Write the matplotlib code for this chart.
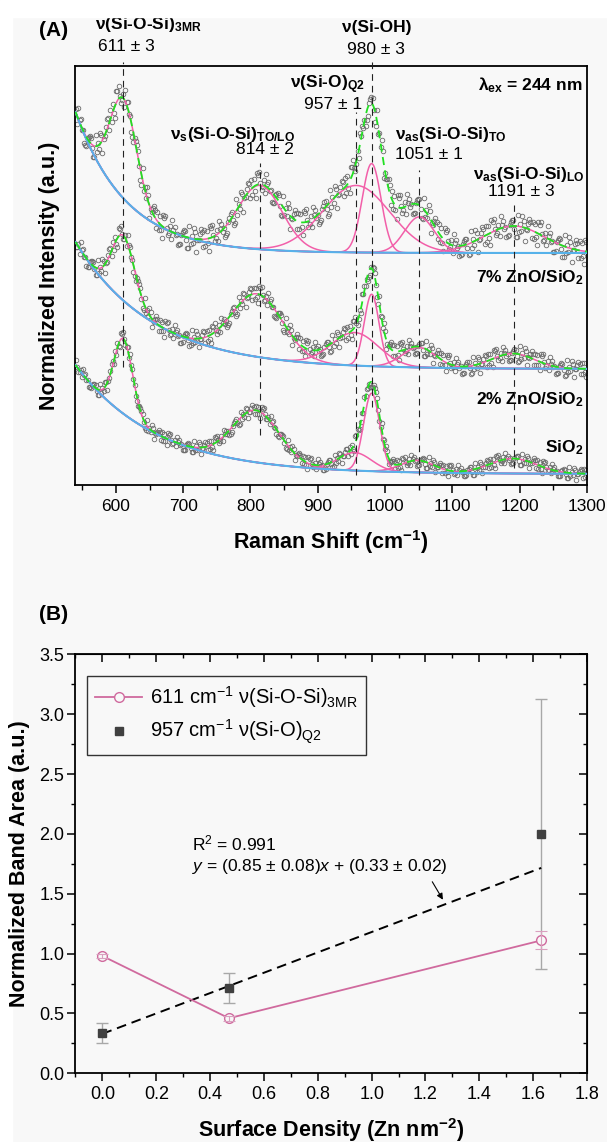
import numpy as np
import matplotlib.pyplot as plt
from matplotlib.patches import Rectangle
from matplotlib.ticker import MultipleLocator, NullFormatter

plt.rcParams['font.family'] = ['Liberation Sans', 'DejaVu Sans']
plt.rcParams['mathtext.fontset'] = 'custom'
plt.rcParams['mathtext.rm'] = 'Liberation Sans'
plt.rcParams['mathtext.it'] = 'Liberation Sans:italic'
plt.rcParams['mathtext.bf'] = 'Liberation Sans:bold'

# ---------------- panel A data: fitted Raman bands (offset intensity units)
band_centers = [611, 814, 957, 980, 1051, 1191]

# 7% ZnO/SiO2 (top trace)
centers_7 = [611, 814, 957, 980, 1051, 1191]
heights_7 = [1.00, 0.64, 0.67, 0.89, 0.36, 0.27]
widths_7 = [20, 33, 50, 14, 22, 45]
baseline_7 = [2.32, 1.41, 75]          # offset, amplitude, decay (cm-1)

# 2% ZnO/SiO2 (middle trace)
centers_2 = [611, 810, 955, 980, 1050, 1190]
heights_2 = [0.65, 0.63, 0.33, 0.72, 0.20, 0.15]
widths_2 = [17, 38, 35, 11, 25, 32]
baseline_2 = [1.16, 1.27, 115]

# SiO2 (bottom trace)
centers_0 = [611, 808, 955, 980, 1048, 1190]
heights_0 = [0.75, 0.52, 0.18, 0.78, 0.12, 0.15]
widths_0 = [14, 35, 25, 12, 25, 35]
baseline_0 = [0.11, 1.09, 120]

# scatter of the measured points about the fit (approximate, per trace)
noise_pattern = [0.35, -0.62, 0.88, -0.15, -0.95, 0.52, 0.08, -0.41, 0.77, -0.86,
                 0.21, 0.63, -0.33, -0.74, 0.97, -0.09, 0.44, -0.58, 0.69, -0.47,
                 0.02, 0.91, -0.99, 0.28, -0.22, 0.57, -0.81, 0.49, -0.37, 0.83,
                 -0.68, 0.13, 0.39, -0.27, 0.93, -0.55, 0.18, -0.79, 0.72, -0.06, 0.46]
noise_amp = [0.13, 0.09, 0.065]

# ---------------- panel B data
density = [0.0, 0.47, 1.63]
area_611 = [0.98, 0.46, 1.11]
err_611 = [0.02, 0.02, 0.075]
area_957 = [0.335, 0.71, 2.0]
err_957 = [0.085, 0.125, 1.125]
fit_slope, fit_intercept = 0.85, 0.33

bg = '#f8f8f8'
pink = '#f25fa9'
blue = '#56b2ea'
green = '#22e022'
pink_b = '#d06a9e'


def baseline(x, p):
    return p[0] + p[1] * np.exp(-(x - 540) / p[2])


def band(x, c, h, s):
    return h * np.exp(-0.5 * ((x - c) / s) ** 2)


fig = plt.figure(figsize=(6.07, 11.42), dpi=100, facecolor=bg)
fig.patches.append(Rectangle((0, 1 - 17 / 1142), 1, 17 / 1142, transform=fig.transFigure,
                             color='white', zorder=0))
fig.patches.append(Rectangle((0, 0), 12 / 607, 1, transform=fig.transFigure,
                             color='white', zorder=0))

# ================= (A)
ax = fig.add_axes([0.12438, 0.57531, 0.84267, 0.36690], facecolor=bg)
x = np.linspace(540, 1300, 800)
xs = np.arange(541, 1300, 1.7)

traces = [(centers_7, heights_7, widths_7, baseline_7),
          (centers_2, heights_2, widths_2, baseline_2),
          (centers_0, heights_0, widths_0, baseline_0)]

n = len(noise_pattern)
for k, (cs, hs, ws, bp) in enumerate(traces):
    base = baseline(x, bp)
    total = base.copy()
    for c, h, s in zip(cs, hs, ws):
        comp = band(x, c, h, s)
        total += comp
        ax.plot(x, base + comp, color=pink, lw=1.1, zorder=3)
    ax.plot(x, base, color=blue, lw=1.5, zorder=4)
    ax.plot(x, total, color=green, lw=1.3, dashes=(4.5, 3), zorder=5)

    pts = baseline(xs, bp)
    for c, h, s in zip(cs, hs, ws):
        pts += band(xs, c, h, s)
    idx = (np.arange(xs.size) * 17 + 7 * k) % n
    jitter = np.array(noise_pattern)[idx]
    ax.plot(xs, pts + noise_amp[k] * jitter, 'o', ms=3.3, mfc='none', mec='#6a6a6a',
            mew=0.6, zorder=2)

line_top = [4.23, 3.22, 3.73, 4.27, 3.15, 2.80]
line_bottom = [1.18, 0.50, 0.10, 0.78, 0.10, 0.17]
for c, y0, y1 in zip(band_centers, line_bottom, line_top):
    ax.plot([c, c], [y0, y1], color='#222222', lw=0.8, dashes=(6, 4.5), clip_on=False, zorder=6)

ax.set_xlim(540, 1300)
ax.set_ylim(0, 4.19)
ax.xaxis.set_major_locator(MultipleLocator(100))
ax.xaxis.set_minor_locator(MultipleLocator(50))
ax.set_yticks([])
ax.tick_params(axis='x', which='major', direction='out', length=5.8, width=1.1,
               labelsize=12.5, pad=4)
ax.tick_params(axis='x', which='minor', direction='out', length=3.6, width=1.0)
for sp in ax.spines.values():
    sp.set_linewidth(1.3)

fs = 12.5
ax.text(569, 4.60, r'ν(Si-O-Si)$_{\mathbf{3MR}}$', fontsize=fs, fontweight='bold', ha='left', va='center')
ax.text(615, 4.38, '611 ± 3', fontsize=fs, ha='center', va='center')
ax.text(987, 4.57, 'ν(Si-OH)', fontsize=fs, fontweight='bold', ha='center', va='center')
ax.text(987, 4.35, '980 ± 3', fontsize=fs, ha='center', va='center')
ax.text(858, 4.00, r'ν(Si-O)$_{\mathbf{Q2}}$', fontsize=fs, fontweight='bold', ha='left', va='center')
ax.text(923, 3.80, '957 ± 1', fontsize=fs, ha='center', va='center')
ax.text(1293, 4.00, r'λ$_{\mathbf{ex}}$ = 244 nm', fontsize=fs, fontweight='bold', ha='right', va='center')
ax.text(680, 3.50, r'ν$_{\mathbf{s}}$(Si-O-Si)$_{\mathbf{TO/LO}}$', fontsize=fs, fontweight='bold',
        ha='left', va='center')
ax.text(822, 3.35, '814 ± 2', fontsize=fs, ha='center', va='center')
ax.text(1014, 3.50, r'ν$_{\mathbf{as}}$(Si-O-Si)$_{\mathbf{TO}}$', fontsize=fs, fontweight='bold',
        ha='left', va='center')
ax.text(1014, 3.30, '1051 ± 1', fontsize=fs, ha='left', va='center')
ax.text(1131, 3.10, r'ν$_{\mathbf{as}}$(Si-O-Si)$_{\mathbf{LO}}$', fontsize=fs, fontweight='bold',
        ha='left', va='center')
ax.text(1202, 2.93, '1191 ± 3', fontsize=fs, ha='center', va='center')

ax.text(1295, 2.07, r'7% ZnO/SiO$_{\mathbf{2}}$', fontsize=12.5, fontweight='bold', ha='right', va='center')
ax.text(1295, 0.85, r'2% ZnO/SiO$_{\mathbf{2}}$', fontsize=12.5, fontweight='bold', ha='right', va='center')
ax.text(1295, 0.37, r'SiO$_{\mathbf{2}}$', fontsize=12.5, fontweight='bold', ha='right', va='center')

fig.text(54 / 607, 1 - 30 / 1142, '(A)', fontsize=15, fontweight='bold', ha='center', va='center')
fig.text(50 / 607, 1 - 275.5 / 1142, 'Normalized Intensity (a.u.)', fontsize=15.5, fontweight='bold',
         rotation=90, ha='center', va='center')
fig.text(331 / 607, 1 - 542 / 1142, r'Raman Shift (cm$^{\mathbf{-1}}$)', fontsize=15.5,
         fontweight='bold', ha='center', va='center')

# ================= (B)
bx = fig.add_axes([0.12438, 0.06016, 0.84267, 0.36690], facecolor=bg)

bx.errorbar(density, area_957, yerr=err_957, fmt='none', ecolor='#a8a8a8', elinewidth=1.0,
            capsize=4.3, capthick=1.0, zorder=2)
fit_x = np.array([density[0], density[-1]])
bx.plot(fit_x, fit_slope * fit_x + fit_intercept, color='black', lw=1.4, dashes=(5, 3), zorder=3)
bx.plot(density, area_611, color=pink_b, lw=1.3, marker='o', ms=7, mfc=bg, mec=pink_b, mew=1.0,
        zorder=4, label=r'611 cm$^{-1}$ ν(Si-O-Si)$_{\mathrm{3MR}}$')
bx.errorbar(density, area_611, yerr=err_611, fmt='none', ecolor='#d9a0bf', elinewidth=0.8,
            capsize=4.3, capthick=0.8, zorder=5)
bx.plot(density, area_957, 's', color='#404040', ms=6, zorder=6,
        label=r'957 cm$^{-1}$ ν(Si-O)$_{\mathrm{Q2}}$')

bx.annotate('', xy=(1.27, 1.43), xytext=(1.22, 1.62),
            arrowprops=dict(arrowstyle='-|>', color='black', lw=0.8, mutation_scale=9))
bx.text(0.333, 1.92, r'R$^2$ = 0.991', fontsize=12.5, ha='left', va='center')
bx.text(0.333, 1.726, r'$y$ = (0.85 ± 0.08)$x$ + (0.33 ± 0.02)', fontsize=12.5, ha='left', va='center')

bx.set_xlim(-0.1, 1.8)
bx.set_ylim(0, 3.5)
bx.xaxis.set_major_locator(MultipleLocator(0.2))
bx.xaxis.set_minor_locator(MultipleLocator(0.1))
bx.yaxis.set_major_locator(MultipleLocator(0.5))
bx.yaxis.set_minor_locator(MultipleLocator(0.25))
bx.tick_params(which='major', direction='out', length=5.5, width=1.1, labelsize=13)
bx.tick_params(which='minor', direction='out', length=3.2, width=1.0)
bx.tick_params(axis='x', pad=3.5)
bx.tick_params(axis='y', pad=2.5)
for sp in bx.spines.values():
    sp.set_linewidth(1.3)

top = bx.secondary_xaxis('top')
top.xaxis.set_major_locator(MultipleLocator(0.2))
top.xaxis.set_minor_locator(MultipleLocator(0.1))
top.xaxis.set_major_formatter(NullFormatter())
top.tick_params(which='major', direction='in', length=5.5, width=1.1)
top.tick_params(which='minor', direction='in', length=3.2, width=1.0)
right = bx.secondary_yaxis('right')
right.yaxis.set_major_locator(MultipleLocator(0.5))
right.yaxis.set_minor_locator(MultipleLocator(0.25))
right.yaxis.set_major_formatter(NullFormatter())
right.tick_params(which='major', direction='in', length=5.5, width=1.1)
right.tick_params(which='minor', direction='in', length=3.2, width=1.0)

leg = bx.legend(loc='upper left', bbox_to_anchor=(0.0225, 0.948), borderaxespad=0, fontsize=14.5,
                frameon=True, fancybox=False, edgecolor='#333333', facecolor=bg, framealpha=1,
                handlelength=2.35, borderpad=0.4, labelspacing=0.4, handletextpad=0.4)
leg.get_frame().set_linewidth(1.0)

fig.text(54 / 607, 1 - 615 / 1142, '(B)', fontsize=15, fontweight='bold', ha='center', va='center')
fig.text(20 / 607, 1 - 863.5 / 1142, 'Normalized Band Area (a.u.)', fontsize=15.5, fontweight='bold',
         rotation=90, ha='center', va='center')
fig.text(331 / 607, 1 - 1130 / 1142, r'Surface Density (Zn nm$^{\mathbf{-2}}$)', fontsize=15.5,
         fontweight='bold', ha='center', va='center')

fig.savefig('out.png', dpi=100, facecolor=bg)
